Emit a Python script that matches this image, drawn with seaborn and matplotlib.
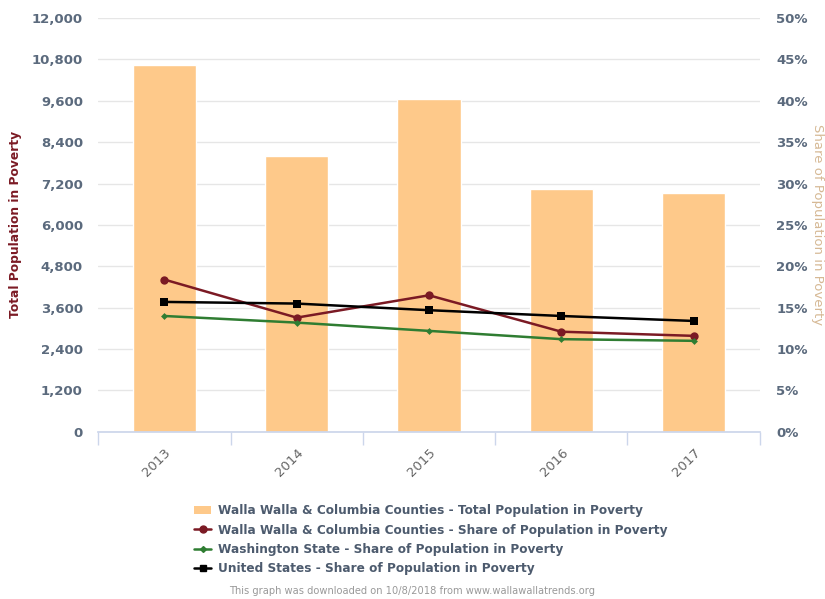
import numpy as np
import pandas as pd
import matplotlib
matplotlib.use("Agg")
import matplotlib.pyplot as plt
import matplotlib.ticker as mticker
from matplotlib.patches import Patch
from matplotlib.lines import Line2D
import seaborn as sns

# Data
years = ["2013", "2014", "2015", "2016", "2017"]
total_poverty = [10640, 8000, 9650, 7040, 6930]
share_ww = [18.4, 13.8, 16.5, 12.1, 11.6]
share_wa = [14.0, 13.2, 12.2, 11.2, 11.0]
share_us = [15.7, 15.5, 14.7, 14.0, 13.4]

bar_color = "#fec98a"
red = "#7b1a24"
green = "#2f7d32"
black = "#000000"
tick_color = "#5b6a7d"

sns.set_theme(style="white")
plt.rcParams["font.family"] = ["DejaVu Sans"]

fig = plt.figure(figsize=(8.25, 5.99), dpi=100)
ax = fig.add_axes([0.119, 0.279, 0.802, 0.691])

df = pd.DataFrame({"year": years, "total": total_poverty})
sns.barplot(data=df, x="year", y="total", color=bar_color, saturation=1,
            width=0.48, ax=ax, zorder=2)
ax.set_ylim(0, 12000)
ax.set_yticks(np.arange(0, 12001, 1200))
ax.yaxis.set_major_formatter(mticker.FuncFormatter(lambda v, p: f"{int(v):,}"))
ax.set_xlim(-0.5, len(years) - 0.5)
ax.grid(axis="y", color="#e6e6e6", linewidth=1, zorder=0)
ax.set_axisbelow(True)
for s in ["top", "left", "right"]:
    ax.spines[s].set_visible(False)
ax.spines["bottom"].set_color("#ccd6eb")
ax.set_xlabel("")
ax.set_ylabel("Total Population in Poverty", color=red, fontsize=8.8,
              fontweight="bold")
ax.yaxis.set_label_coords(-0.115, 0.5)
ax.tick_params(axis="y", length=0, labelsize=9.5, labelcolor=tick_color, pad=11)
for lbl in ax.get_yticklabels():
    lbl.set_fontweight("bold")
# category boundary tick marks below axis
ax.set_xticks(np.arange(len(years)))
ax.set_xticklabels(years, rotation=45, ha="right", rotation_mode="anchor",
                   color="#666666", fontsize=9.5)
ax.set_xticks(np.arange(-0.5, len(years)), minor=True)
ax.tick_params(axis="x", which="major", length=0, pad=10)
ax.tick_params(axis="x", which="minor", length=9, color="#ccd6eb", width=1,
               bottom=True)

ax2 = ax.twinx()
x_pos = np.arange(len(years))
sns.lineplot(x=x_pos, y=share_ww, ax=ax2, color=red, marker="o", markersize=6,
             markeredgewidth=0, linewidth=1.8)
sns.lineplot(x=x_pos, y=share_wa, ax=ax2, color=green, marker="D", markersize=3.5,
             markeredgewidth=0, linewidth=1.8)
sns.lineplot(x=x_pos, y=share_us, ax=ax2, color=black, marker="s", markersize=6,
             markeredgewidth=0, linewidth=1.8)
ax2.set_ylim(0, 50)
ax2.set_xlim(-0.5, len(years) - 0.5)
ax2.set_yticks(np.arange(0, 51, 5))
ax2.yaxis.set_major_formatter(mticker.FuncFormatter(lambda v, p: f"{int(v)}%"))
ax2.tick_params(axis="y", length=0, labelsize=9.5, labelcolor=tick_color, pad=12)
for lbl in ax2.get_yticklabels():
    lbl.set_fontweight("bold")
for s in ["top", "left", "right", "bottom"]:
    ax2.spines[s].set_visible(False)
ax2.set_ylabel("Share of Population in Poverty", color="#d6b995", fontsize=9.5,
               rotation=270, va="center")
ax2.yaxis.set_label_coords(1.0876, 0.5)
ax2.grid(False)

handles = [
    Patch(facecolor=bar_color, edgecolor="none"),
    Line2D([], [], color=red, marker="o", markersize=5, linewidth=1.8),
    Line2D([], [], color=green, marker="D", markersize=3, linewidth=1.8),
    Line2D([], [], color=black, marker="s", markersize=5, linewidth=1.8),
]
labels = [
    "Walla Walla & Columbia Counties - Total Population in Poverty",
    "Walla Walla & Columbia Counties - Share of Population in Poverty",
    "Washington State - Share of Population in Poverty",
    "United States - Share of Population in Poverty",
]
leg = fig.legend(handles, labels, loc="upper left", bbox_to_anchor=(0.228, 0.168),
                 frameon=False, fontsize=8.7, handlelength=1.4, handletextpad=0.6,
                 labelspacing=0.52, borderpad=0)
for t in leg.get_texts():
    t.set_color("#4d5b6e")
    t.set_fontweight("bold")

fig.text(0.5, 0.005, "This graph was downloaded on 10/8/2018 from www.wallawallatrends.org",
         ha="center", va="bottom", fontsize=7.1, color="#999999")

fig.savefig("out.png", dpi=100)
